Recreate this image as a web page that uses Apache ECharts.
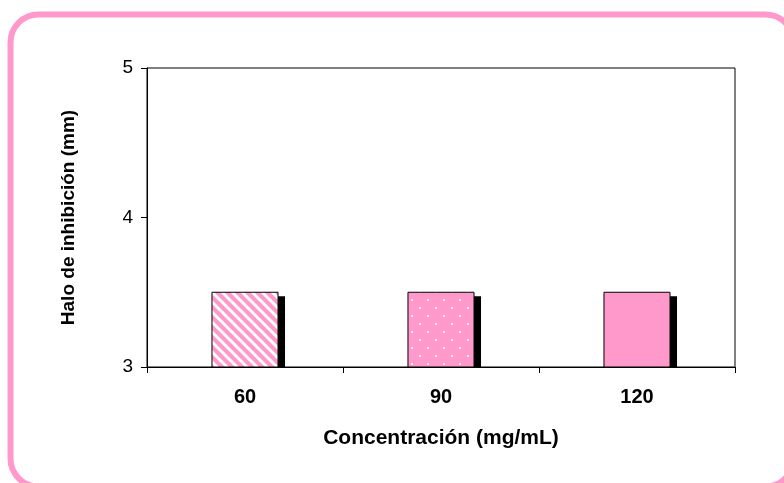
<!DOCTYPE html>
<html>
<head>
<meta charset="utf-8">
<script src="https://cdn.jsdelivr.net/npm/echarts@6/dist/echarts.min.js"></script>
<style>
html,body{margin:0;padding:0;background:#fff;}
#c{width:784px;height:483px;}
</style>
</head>
<body>
<div id="c"></div>
<script>
const categories = ['60', '90', '120'];
const haloValues = [3.5, 3.5, 3.5];
const yTicks = [3, 4, 5];

const PINK = '#FF99CC';

function stripeCanvas() {
  const n = 10;
  const c = document.createElement('canvas');
  c.width = n; c.height = n;
  const g = c.getContext('2d');
  g.fillStyle = PINK; g.fillRect(0, 0, n, n);
  g.strokeStyle = '#ffffff'; g.lineWidth = 3;
  for (let k = -1; k <= 1; k++) {
    g.beginPath();
    g.moveTo(-2, -2 + k * n);
    g.lineTo(n + 2, n + 2 + k * n);
    g.stroke();
  }
  return c;
}
function dotCanvas() {
  const c = document.createElement('canvas');
  c.width = 16; c.height = 16;
  const g = c.getContext('2d');
  g.fillStyle = PINK; g.fillRect(0, 0, 16, 16);
  g.fillStyle = '#ffe6f2';
  g.fillRect(3, 3, 2, 2);
  g.fillRect(11, 11, 2, 2);
  return c;
}
const fills = [
  { image: stripeCanvas(), repeat: 'repeat' },
  { image: dotCanvas(), repeat: 'repeat' },
  PINK
];

const chart = echarts.init(document.getElementById('c'), null, { renderer: 'canvas' });
const FONT = 'Liberation Sans, Arial, sans-serif';

chart.setOption({
  animation: false,
  backgroundColor: '#fff',
  graphic: [{
    type: 'rect',
    shape: { x: 10.5, y: 14.5, width: 783, height: 472, r: 28 },
    style: { fill: null, stroke: PINK, lineWidth: 6 },
    z: 100, silent: true
  }],
  grid: {
    left: 147, right: 49, top: 68, bottom: 116,
    show: true, borderColor: '#000', borderWidth: 1, backgroundColor: '#fff'
  },
  xAxis: {
    type: 'category',
    data: categories,
    boundaryGap: true,
    axisLine: { show: true, lineStyle: { color: '#000', width: 1 } },
    axisTick: { show: true, length: 6, lineStyle: { color: '#000' } },
    axisLabel: { color: '#000', fontFamily: FONT, fontWeight: 'bold', fontSize: 20, margin: 20 },
    name: 'Concentración (mg/mL)',
    nameLocation: 'middle',
    nameGap: 61,
    nameTextStyle: { color: '#000', fontFamily: FONT, fontWeight: 'bold', fontSize: 21 }
  },
  yAxis: {
    type: 'value',
    min: yTicks[0], max: yTicks[yTicks.length - 1], interval: 1,
    axisLine: { show: true, lineStyle: { color: '#000', width: 1 } },
    axisTick: { show: true, length: 6, lineStyle: { color: '#000' } },
    splitLine: { show: false },
    axisLabel: { color: '#000', fontFamily: FONT, fontSize: 19, margin: 14 },
    name: 'Halo de inhibición (mm)',
    nameLocation: 'middle',
    nameGap: 69,
    nameTextStyle: { color: '#000', fontFamily: FONT, fontWeight: 'bold', fontSize: 19 }
  },
  series: [{
    type: 'custom',
    data: haloValues.map((v, i) => [i, v]),
    encode: { x: 0, y: 1 },
    renderItem: function (params, api) {
      const top = api.coord([api.value(0), api.value(1)]);
      const base = api.coord([api.value(0), yTicks[0]]);
      const bw = api.size([1, 0])[0] * 0.337;
      const x0 = top[0] - bw / 2;
      const h = base[1] - top[1];
      return {
        type: 'group',
        children: [
          { type: 'rect', shape: { x: x0 + 7, y: top[1] + 4, width: bw, height: h - 4 }, style: { fill: '#000' } },
          { type: 'rect', shape: { x: x0, y: top[1], width: bw, height: h }, style: { fill: fills[params.dataIndex], stroke: '#000', lineWidth: 1 } }
        ]
      };
    }
  }]
});
</script>
</body>
</html>
